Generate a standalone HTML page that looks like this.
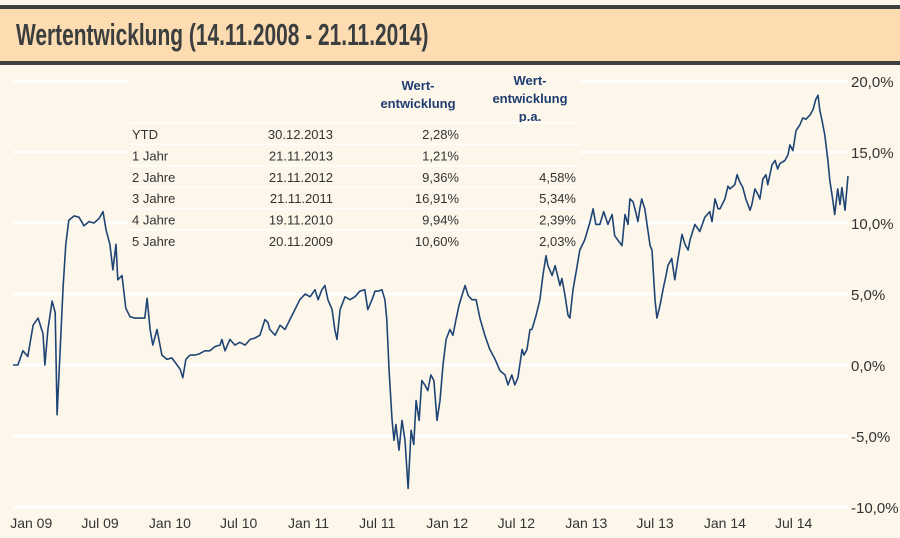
<!DOCTYPE html>
<html><head><meta charset="utf-8"><style>
body{margin:0;width:900px;height:538px;background:#fdf6ea;font-family:"Liberation Sans",sans-serif;overflow:hidden;position:relative}
#title{position:absolute;left:0;top:5px;width:900px;height:52px;background:#fcdcb0;border-top:4px solid #3c4040;border-bottom:4px solid #3c4040}
#title span{position:absolute;left:16px;top:8px;font-family:"Liberation Sans",sans-serif;font-weight:bold;font-size:31px;color:#3a3e3e;transform:scaleX(0.675);transform-origin:0 0;white-space:nowrap}
svg{position:absolute;left:0;top:0}
</style></head><body>
<div id="title"><span>Wertentwicklung (14.11.2008 - 21.11.2014)</span></div>
<svg id="chart" width="900" height="538"></svg>
<script>
const days=[0,13,26,39,53,66,79,84,92,103,111,116,124,132,139,147,161,174,187,200,213,226,237,245,255,263,271,276,287,297,308,321,334,347,353,361,368,379,392,405,418,432,440,447,455,466,479,492,505,518,532,545,550,558,571,584,597,611,624,637,650,663,671,676,690,703,716,729,742,755,769,782,795,803,813,821,829,840,847,853,861,874,887,900,913,926,934,945,953,961,971,979,984,990,998,1003,1008,1016,1024,1032,1040,1048,1055,1061,1069,1076,1084,1092,1100,1108,1116,1124,1132,1140,1150,1158,1166,1174,1182,1190,1198,1208,1219,1229,1242,1255,1269,1282,1295,1303,1313,1321,1329,1340,1345,1353,1361,1366,1377,1387,1395,1403,1408,1419,1427,1440,1445,1453,1461,1466,1474,1482,1492,1505,1519,1527,1534,1545,1555,1566,1577,1584,1592,1603,1611,1619,1624,1632,1640,1645,1650,1655,1663,1677,1682,1690,1695,1703,1711,1719,1724,1734,1742,1750,1761,1769,1777,1782,1795,1808,1821,1834,1840,1848,1856,1861,1874,1882,1887,1900,1906,1913,1921,1929,1940,1945,1953,1961,1966,1974,1982,1987,1998,2006,2013,2019,2032,2040,2045,2053,2061,2071,2079,2087,2098,2106,2113,2119,2124,2129,2137,2145,2150,2158,2163,2171,2177,2182,2190,2198];
const values=[0,0,1.0,0.6,2.8,3.3,2.2,0.0,2.5,4.5,3.7,-3.5,1.0,5.5,8.5,10.2,10.5,10.4,9.8,10.1,10.0,10.3,10.8,9.5,8.5,6.7,8.5,6.0,6.3,4.0,3.4,3.3,3.3,3.3,4.7,2.5,1.4,2.5,0.7,0.4,0.5,0.0,-0.3,-0.9,0.4,0.7,0.7,0.8,1.0,1.0,1.3,1.4,1.8,1.0,1.8,1.4,1.6,1.4,1.8,1.9,2.1,3.2,3.0,2.5,2.1,2.8,2.5,3.2,3.9,4.6,5.0,4.8,5.3,4.6,5.3,5.6,4.6,3.9,2.5,1.8,3.9,4.8,4.6,4.8,5.2,5.3,3.9,4.6,5.2,5.2,5.3,4.6,3.2,-0.4,-3.9,-5.3,-4.2,-6.0,-3.9,-5.3,-8.7,-4.6,-5.6,-2.5,-3.9,-1.1,-1.4,-1.8,-0.7,-1.1,-3.9,-2.5,0.0,1.8,2.5,2.1,3.2,4.2,4.9,5.6,4.9,4.6,4.6,3.3,2.1,1.1,0.4,-0.4,-0.7,-1.4,-0.7,-1.4,-0.9,1.1,0.7,1.1,2.5,2.5,3.5,4.6,6.3,7.7,7.0,6.3,7.0,5.6,6.1,4.9,3.5,3.3,5.3,6.5,8.1,8.8,10.1,11.0,9.9,9.9,10.8,9.9,10.6,9.1,8.8,8.4,10.6,9.9,11.7,11.5,10.7,10.1,11.0,11.7,11.0,8.4,8.1,4.6,3.3,4.2,5.3,6.3,7.0,7.5,6.0,7.4,9.2,8.5,8.1,8.8,9.9,9.4,10.4,10.8,10.1,11.7,11.0,11.0,11.7,12.6,12.4,12.7,13.4,12.9,12.5,11.7,10.9,11.3,12.4,12.0,11.7,13.1,13.4,12.7,14.1,14.4,13.8,14.2,14.4,14.8,15.5,15.1,16.5,16.9,17.4,17.3,17.6,18.0,18.7,19.0,17.9,17.3,16.2,14.4,13.0,11.6,10.6,12.4,11.3,12.5,10.9,13.3];
const yTicks=[20,15,10,5,0,-5,-10];
const yTickLabels=["20,0%","15,0%","10,0%","5,0%","0,0%","-5,0%","-10,0%"];
const xTickDays=[48,229,413,594,778,959,1143,1325,1509,1690,1874,2055];
const xTickLabels=["Jan 09","Jul 09","Jan 10","Jul 10","Jan 11","Jul 11","Jan 12","Jul 12","Jan 13","Jul 13","Jan 14","Jul 14"];
const rowLabels=["YTD","1 Jahr","2 Jahre","3 Jahre","4 Jahre","5 Jahre"];
const rowDates=["30.12.2013","21.11.2013","21.11.2012","21.11.2011","19.11.2010","20.11.2009"];
const rowPerf=["2,28%","1,21%","9,36%","16,91%","9,94%","10,60%"];
const rowPa=["","","4,58%","5,34%","2,39%","2,03%"];

const svg=document.getElementById('chart');
const NS='http://www.w3.org/2000/svg';
const X0=13,X1=848,D1=2198;
function xs(d){return X0+(d/D1)*(X1-X0);}
function ys(v){return 365-v*14.2;}
function mk(tag,attrs,txt){const e=document.createElementNS(NS,tag);for(const k in attrs)e.setAttribute(k,attrs[k]);if(txt!==undefined)e.textContent=txt;svg.appendChild(e);return e;}

yTicks.forEach((v,i)=>{
  const g=mk('line',{x1:X0,x2:X1,y1:ys(v),y2:ys(v),stroke:'#ffffff','stroke-width':3});
  
  
  const t=mk('text',{x:851,y:ys(v)+6,'font-size':15,fill:'#333'},yTickLabels[i]);
  
  
});
xTickDays.forEach((d,i)=>{
  const t=mk('text',{x:xs(d),y:528,'font-size':14,fill:'#333','text-anchor':'middle'},xTickLabels[i]);
  
  
});
const box=mk('rect',{x:128,y:66,width:452,height:187,fill:'#fdf6ea'});


const hdr=[["Wert-",418,85],["entwicklung",418,103],["Wert-",530,80],["entwicklung",530,98],["p.a.",530,116]];
hdr.forEach(h=>{
  const t=mk('text',{x:h[1],y:h[2]+5,'font-size':13,'font-weight':'bold',fill:'#1f3d70','text-anchor':'middle'},h[0]);
  
  
});
rowLabels.forEach((r,i)=>{
  const cy=134+i*21.4;
  const ln=mk('line',{x1:130,x2:578,y1:cy-11,y2:cy-11,stroke:'#ffffff','stroke-width':1.5});
  
  
  const cells=[[r,132,'start'],[rowDates[i],333,'end'],[rowPerf[i],459,'end'],[rowPa[i],576,'end']];
  cells.forEach(c=>{
    const t=mk('text',{x:c[1],y:cy+5,'font-size':13,fill:'#333','text-anchor':c[2]},c[0]);
    
    
  });
});
let d='';
const n=Math.min(days.length,values.length);
for(let i=0;i<n;i++){d+=(i?'L':'M')+xs(days[i]).toFixed(1)+','+ys(values[i]).toFixed(1);}
const p=mk('path',{d:d,fill:'none',stroke:'#1f4575','stroke-width':1.6,'stroke-linejoin':'round'});


</script>
</body></html>
